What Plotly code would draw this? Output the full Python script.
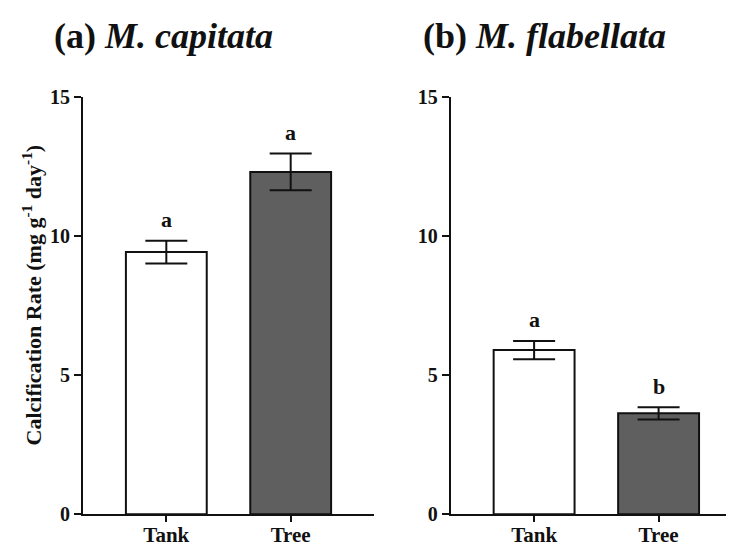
import plotly.graph_objects as go

# ---- data ----
groups = ["Tank", "Tree"]
capitata_mean = [9.42, 12.30]
capitata_se = [0.41, 0.66]
capitata_letters = ["a", "a"]
flabellata_mean = [5.90, 3.63]
flabellata_se = [0.33, 0.22]
flabellata_letters = ["a", "b"]
panel_titles = ["<b>(a) <i>M. capitata</i></b>", "<b>(b) <i>M. flabellata</i></b>"]
y_title = "<b>Calcification Rate (mg g<sup>-1</sup> day<sup>-1</sup>)</b>"
y_ticks = [0, 5, 10, 15]
bar_colors = ["#ffffff", "#5e5f5e"]

W, H = 734, 549
FONT = "Liberation Serif, Times New Roman, serif"
INK = "#111111"

fig = go.Figure()
xpos = list(range(len(groups)))

panels = [
    (capitata_mean, capitata_se, capitata_letters, "x", "y"),
    (flabellata_mean, flabellata_se, flabellata_letters, "x2", "y2"),
]
for means, ses, letters, xa, ya in panels:
    fig.add_trace(go.Bar(
        x=xpos, y=means, width=0.65,
        marker=dict(color=bar_colors, line=dict(color=INK, width=2)),
        error_y=dict(type="data", array=ses, visible=True, color=INK, thickness=2, width=21),
        xaxis=xa, yaxis=ya, showlegend=False,
    ))
    for xi, m, s, L in zip(xpos, means, ses, letters):
        fig.add_annotation(x=xi, y=m + s, xref=xa, yref=ya, text="<b>%s</b>" % L,
                           showarrow=False, yanchor="middle", yshift=21,
                           font=dict(family=FONT, size=22, color=INK))

def px_x(p):
    return p / W

def px_y(p):
    return 1 - p / H

ydom = [px_y(516), px_y(81)]
xdoms = [[px_x(75), px_x(366)], [px_x(442.7), 1.0]]

common_x = dict(range=[-0.67, 1.67], tickvals=xpos, ticktext=["<b>%s</b>" % g for g in groups],
                showline=True, linecolor=INK, linewidth=2, ticks="outside", ticklen=6,
                tickwidth=2, tickcolor=INK, showgrid=False, zeroline=False, fixedrange=True,
                tickfont=dict(family=FONT, size=21, color=INK), ticklabelstandoff=-6)
common_y = dict(range=[0, 15], tickvals=y_ticks, ticktext=["<b>%d</b>" % v for v in y_ticks],
                showline=True, linecolor=INK, linewidth=2,
                ticks="outside", ticklen=7, tickwidth=2, tickcolor=INK, showgrid=False,
                zeroline=False, tickfont=dict(family=FONT, size=20, color=INK),
                ticklabelstandoff=0)

fig.update_layout(
    width=W, height=H, margin=dict(l=0, r=0, t=0, b=0),
    paper_bgcolor="white", plot_bgcolor="white",
    xaxis=dict(domain=xdoms[0], anchor="y", **common_x),
    yaxis=dict(domain=ydom, anchor="x", **common_y),
    xaxis2=dict(domain=xdoms[1], anchor="y2", **common_x),
    yaxis2=dict(domain=ydom, anchor="x2", **common_y),
    font=dict(family=FONT, color=INK),
)

# panel titles
for t, xp in zip(panel_titles, [44, 413]):
    fig.add_annotation(x=px_x(xp), y=px_y(18), xref="paper", yref="paper", text=t,
                       showarrow=False, xanchor="left", yanchor="middle",
                       font=dict(family=FONT, size=36, color=INK))

fig.add_annotation(x=px_x(24), y=px_y(288), xref="paper", yref="paper", text=y_title,
                   textangle=-90, showarrow=False, xanchor="center", yanchor="middle",
                   font=dict(family=FONT, size=22, color=INK))

fig.write_html("out.html")
